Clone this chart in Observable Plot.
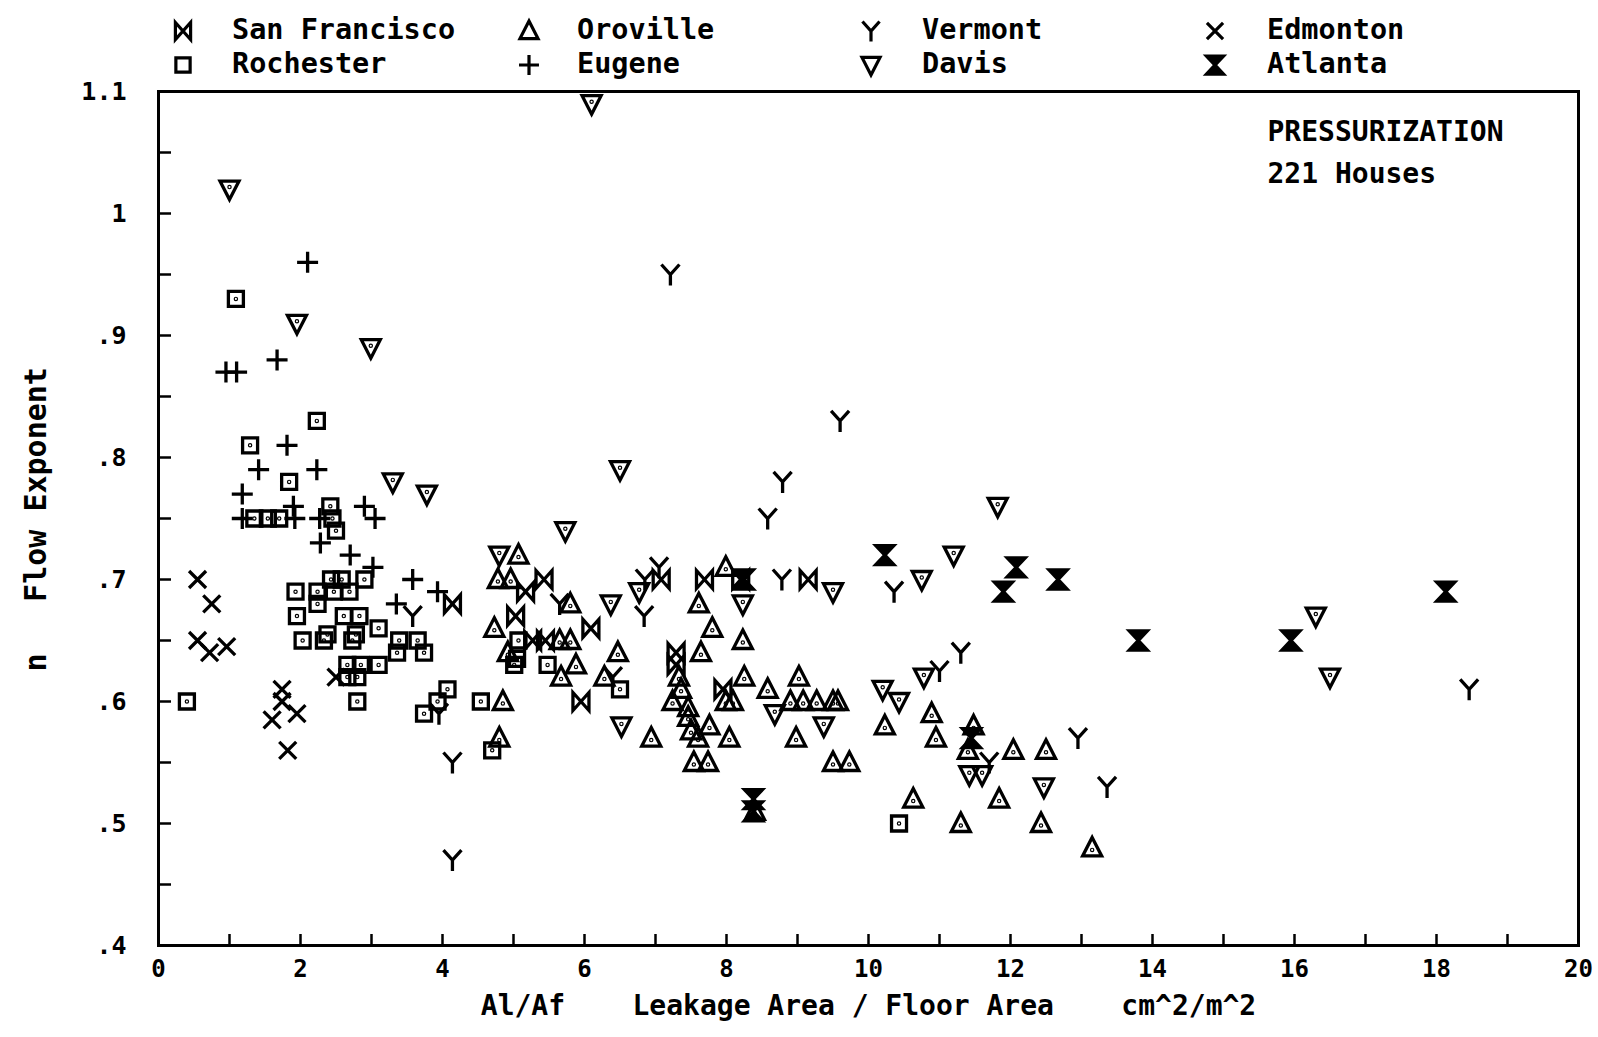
<!DOCTYPE html>
<html><head><meta charset="utf-8">
<script src="https://cdn.jsdelivr.net/npm/d3@7"></script>
<script src="https://cdn.jsdelivr.net/npm/@observablehq/plot@0.6"></script>
<style>
body{margin:0;background:#fff;}
#legend{position:relative;width:1598px;height:78px;font-family:"DejaVu Sans Mono",monospace;font-weight:bold;font-size:28.5px;color:#000;}
#legend svg{position:absolute;overflow:visible;}
#legend span{position:absolute;line-height:28px;white-space:pre;}
</style></head><body>
<div id="legend"></div><div id="chart"></div>
<script>
// ---- data (x = Al/Af cm^2/m^2, n = flow exponent) ----
const sanFrancisco = [[4.14,0.68],[5.03,0.67],[5.17,0.69],[5.43,0.70],[5.27,0.65],[5.45,0.65],[6.09,0.66],[5.95,0.60],[7.29,0.64],[7.29,0.63],[7.08,0.70],[7.69,0.70],[8.2,0.70],[9.15,0.70],[7.95,0.61]];
const rochester = [[1.09,0.93],[2.23,0.83],[1.29,0.81],[1.84,0.78],[1.35,0.75],[1.54,0.75],[1.70,0.75],[2.42,0.76],[2.45,0.75],[2.5,0.74],
  [1.93,0.69],[2.24,0.69],[2.43,0.70],[2.58,0.70],[2.9,0.70],[2.47,0.69],[2.69,0.69],
  [1.95,0.67],[2.24,0.68],[2.61,0.67],[2.83,0.67],
  [2.03,0.65],[2.33,0.65],[2.38,0.655],[2.73,0.65],[2.78,0.655],[3.1,0.66],[3.39,0.65],[3.65,0.65],[3.36,0.64],[3.74,0.64],
  [2.66,0.63],[2.85,0.63],[3.1,0.63],[2.66,0.62],[2.8,0.62],[2.8,0.60],
  [0.4,0.60],[4.07,0.61],[3.93,0.60],[3.74,0.59],[4.54,0.60],[4.7,0.56],
  [5.07,0.65],[5.01,0.63],[5.05,0.635],[5.48,0.63],[6.5,0.61],[10.43,0.50]];
const oroville = [[4.73,0.66],[4.78,0.70],[4.96,0.70],[5.07,0.72],[5.8,0.68],[5.65,0.65],[5.8,0.65],[4.92,0.64],[5.88,0.63],[5.67,0.62],[6.28,0.62],[6.47,0.64],[4.85,0.60],[4.8,0.57],
  [7.61,0.68],[7.8,0.66],[7.64,0.64],[7.99,0.71],[7.33,0.62],[7.36,0.61],[7.24,0.60],[7.46,0.595],[7.46,0.587],[7.76,0.58],[7.5,0.576],[7.6,0.57],[7.54,0.55],[7.74,0.55],[6.94,0.57],[7.99,0.60],
  [8.04,0.57],[8.98,0.57],[9.5,0.55],[9.73,0.55],[10.23,0.58],[10.89,0.59],[10.95,0.57],[11.48,0.58],[11.4,0.56],[10.63,0.52],[11.3,0.50],[11.84,0.52],
  [8.23,0.65],[8.25,0.62],[8.58,0.61],[9.02,0.62],[8.9,0.60],[9.08,0.60],[9.27,0.60],[9.5,0.60],[9.57,0.60],[8.09,0.60],
  [12.04,0.56],[12.5,0.56],[12.43,0.50],[13.15,0.48],[8.4,0.51]];
const eugene = [[2.1,0.96],[0.95,0.87],[1.1,0.87],[1.67,0.88],[1.81,0.81],[1.41,0.79],[2.23,0.79],[1.18,0.77],[1.18,0.75],[1.92,0.75],[1.9,0.76],[2.9,0.76],[3.05,0.75],[2.27,0.75],[2.28,0.73],[2.7,0.72],[3.02,0.71],[3.58,0.70],[3.93,0.69],[3.35,0.68]];
const vermont = [[7.21,0.95],[9.6,0.83],[8.79,0.78],[8.58,0.75],[4.14,0.55],[4.14,0.47],[6.84,0.67],[7.05,0.71],[5.65,0.68],[6.85,0.70],[8.78,0.70],[10.36,0.69],[11.3,0.64],[11.0,0.625],[11.7,0.55],[12.95,0.57],[13.36,0.53],[18.46,0.61],[6.4,0.62],[3.58,0.67],[3.95,0.59]];
const davis = [[1.0,1.02],[1.95,0.91],[2.99,0.89],[6.1,1.09],[3.3,0.78],[3.78,0.77],[6.5,0.79],[5.73,0.74],[4.8,0.72],[6.37,0.68],[6.77,0.69],[6.52,0.58],[8.23,0.68],[9.5,0.69],[10.75,0.70],[11.2,0.72],[11.82,0.76],[10.2,0.61],[10.43,0.60],[10.78,0.62],[8.68,0.59],[9.37,0.58],[11.42,0.54],[11.6,0.54],[12.47,0.53],[16.3,0.67],[16.5,0.62]];
const edmonton = [[0.55,0.70],[0.75,0.68],[0.55,0.65],[0.72,0.64],[0.96,0.645],[1.74,0.61],[1.74,0.60],[1.6,0.585],[1.95,0.59],[1.82,0.56],[2.5,0.62]];
const atlanta = [[10.23,0.72],[12.08,0.71],[11.9,0.69],[12.67,0.70],[13.8,0.65],[15.95,0.65],[18.13,0.69],[8.38,0.52],[8.38,0.51],[8.25,0.70],[11.45,0.57]];

const legendRow1 = ["San Francisco","Oroville","Vermont","Edmonton"];
const legendRow2 = ["Rochester","Eugene","Davis","Atlanta"];
const xTicks = [0,2,4,6,8,10,12,14,16,18,20];
const xTickLabels = ["0","2","4","6","8","10","12","14","16","18","20"];
const xMinor = [0,1,2,3,4,5,6,7,8,9,10,11,12,13,14,15,16,17,18,19,20];
const yTicks = [0.4,0.5,0.6,0.7,0.8,0.9,1.0,1.1];
const yTickLabels = [".4",".5",".6",".7",".8",".9","1","1.1"];
const yMinor = [0.4,0.45,0.5,0.55,0.6,0.65,0.7,0.75,0.8,0.85,0.9,0.95,1.0,1.05,1.1];
const xTitle = "Al/Af\u00a0\u00a0\u00a0\u00a0Leakage Area / Floor Area\u00a0\u00a0\u00a0\u00a0cm^2/m^2";
const yTitle = "Flow Exponent";
const yVar = "n";
const note = "PRESSURIZATION\n221 Houses";

// ---- symbols ----
function shape(kind, dot, k = 1) {
  return {draw(c) {
    const s = v => v * k;
    switch (kind) {
      case "bowtie": c.moveTo(s(-8),s(-9)); c.lineTo(s(8),s(9)); c.lineTo(s(8),s(-9)); c.lineTo(s(-8),s(9)); c.closePath(); break;
      case "hourglass": c.moveTo(s(-9),s(-9.5)); c.lineTo(s(9),s(-9.5)); c.lineTo(s(-9),s(9.5)); c.lineTo(s(9),s(9.5)); c.closePath(); break;
      case "square": c.rect(s(-7.5),s(-7.5),s(15),s(15)); break;
      case "up": c.moveTo(0,s(-10.5)); c.lineTo(s(9.5),s(8)); c.lineTo(s(-9.5),s(8)); c.closePath(); break;
      case "down": c.moveTo(0,s(10.5)); c.lineTo(s(9.5),s(-8)); c.lineTo(s(-9.5),s(-8)); c.closePath(); break;
      case "plus": c.moveTo(s(-10.5),0); c.lineTo(s(10.5),0); c.moveTo(0,s(-10.5)); c.lineTo(0,s(10.5)); break;
      case "x": c.moveTo(s(-8.5),s(-8.5)); c.lineTo(s(8.5),s(8.5)); c.moveTo(s(8.5),s(-8.5)); c.lineTo(s(-8.5),s(8.5)); break;
      case "y": c.moveTo(s(-9),s(-10)); c.lineTo(0,0); c.lineTo(s(9),s(-10)); c.moveTo(0,0); c.lineTo(0,s(11)); break;
    }
    if (dot) {
      const dy = kind === "up" ? 2 : kind === "down" ? -2 : 0;
      c.moveTo(0.6, dy); c.arc(0, dy, 0.6, 0, 2 * Math.PI);
    }
  }};
}
const series = [
  {name: "San Francisco", data: sanFrancisco, kind: "bowtie", dot: false, fill: "none"},
  {name: "Rochester", data: rochester, kind: "square", dot: true, fill: "none"},
  {name: "Oroville", data: oroville, kind: "up", dot: true, fill: "none"},
  {name: "Eugene", data: eugene, kind: "plus", dot: false, fill: "none"},
  {name: "Vermont", data: vermont, kind: "y", dot: false, fill: "none"},
  {name: "Davis", data: davis, kind: "down", dot: true, fill: "none"},
  {name: "Edmonton", data: edmonton, kind: "x", dot: false, fill: "none"},
  {name: "Atlanta", data: atlanta, kind: "hourglass", dot: false, fill: "black"}
];
const byName = new Map(series.map(s => [s.name, s]));

// ---- legend (HTML above the SVG) ----
const legend = d3.select("#legend");
const colSym = [183, 529, 871, 1215], colText = [232, 577, 922, 1267], rowY = [31, 65];
[legendRow1, legendRow2].forEach((row, r) => row.forEach((name, c) => {
  const s = byName.get(name);
  const p = d3.path(); shape(s.kind, false, 0.95).draw(p);
  const svg = legend.append("svg").attr("width", 1).attr("height", 1)
    .style("left", colSym[c] + "px").style("top", rowY[r] + "px");
  svg.append("path").attr("d", p.toString()).attr("fill", s.fill).attr("stroke", "black").attr("stroke-width", 3.2);
  legend.append("span").text(name).style("left", colText[c] + "px").style("top", (rowY[r] - 15) + "px");
}));

// ---- chart ----
const yLabel = new Map(yTicks.map((v, i) => [v, yTickLabels[i]]));
const xLabel = new Map(xTicks.map((v, i) => [v, xTickLabels[i]]));
const plot = Plot.plot({
  width: 1598, height: 959,
  marginLeft: 158, marginRight: 20, marginTop: 13, marginBottom: 92,
  x: {domain: [0, 20]},
  y: {domain: [0.4, 1.1]},
  style: {fontFamily: "'DejaVu Sans Mono', monospace", fontWeight: "bold", fontSize: "24px", color: "black", background: "white", overflow: "visible"},
  marks: [
    Plot.axisY({ticks: yMinor, anchor: "right", frameAnchor: "left", tickSize: 12, strokeWidth: 2.5, fill: "none", label: null}),
    Plot.axisY({ticks: yTicks, tickSize: 0, tickPadding: 32, tickFormat: d => yLabel.get(d), label: null, fontSize: 25}),
    Plot.axisX({ticks: xMinor, anchor: "top", frameAnchor: "bottom", tickSize: 12, strokeWidth: 2.5, fill: "none", label: null}),
    Plot.axisX({ticks: xTicks, tickSize: 0, tickPadding: 14, tickFormat: d => xLabel.get(d), label: null, fontSize: 24}),
    ...series.map(s => Plot.dot(s.data, {x: d => d[0], y: d => d[1], symbol: shape(s.kind, s.dot), stroke: "black", strokeWidth: 3.3, fill: s.fill, r: 6})),
    Plot.frame({strokeWidth: 3}),
    Plot.text([xTitle], {text: d => d, frameAnchor: "bottom", dy: 69, fontSize: 28}),
    Plot.text([yTitle], {text: d => d, frameAnchor: "left", textAnchor: "middle", dx: -122, dy: -34, rotate: -90, fontSize: 30}),
    Plot.text([yVar], {text: d => d, frameAnchor: "left", textAnchor: "middle", dx: -122, dy: 144, rotate: -90, fontSize: 30}),
    Plot.text([note], {text: d => d, frameAnchor: "top-left", textAnchor: "start", lineAnchor: "top", dx: 1109, dy: 20, lineHeight: 1.5, fontSize: 28})
  ]
});
document.getElementById("chart").appendChild(plot);
</script>
</body></html>
